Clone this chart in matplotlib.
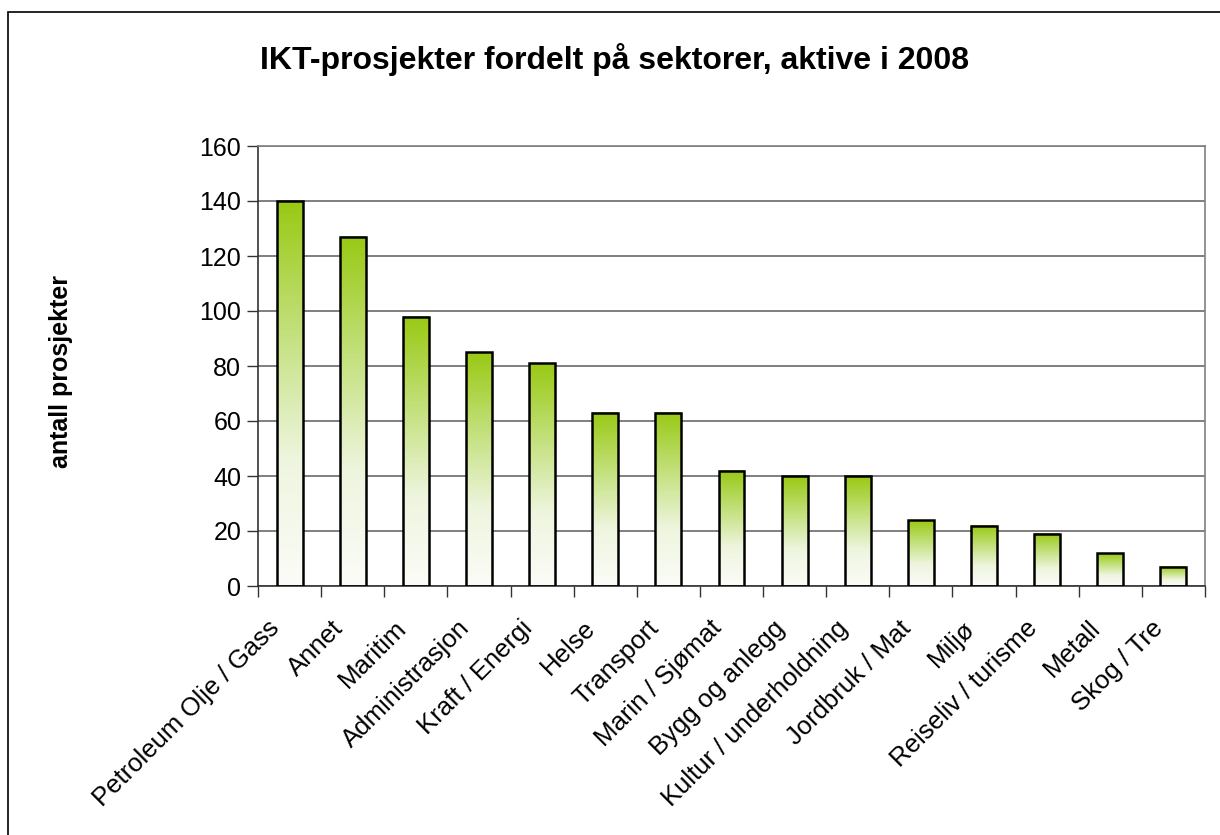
import matplotlib
matplotlib.use("Agg")
import matplotlib.pyplot as plt
import matplotlib.transforms as mtransforms
import numpy as np
from matplotlib.colors import LinearSegmentedColormap
from matplotlib.patches import Rectangle

plt.rcParams['font.family'] = ['Liberation Sans', 'DejaVu Sans']

title = "IKT-prosjekter fordelt på sektorer, aktive i 2008"
ylabel = "antall prosjekter"
categories = ["Petroleum Olje / Gass", "Annet", "Maritim", "Administrasjon",
              "Kraft / Energi", "Helse", "Transport", "Marin / Sjømat",
              "Bygg og anlegg", "Kultur / underholdning", "Jordbruk / Mat",
              "Miljø", "Reiseliv / turisme", "Metall", "Skog / Tre"]
values = [140, 127, 98, 85, 81, 63, 63, 42, 40, 40, 24, 22, 19, 12, 7]
yticks = [0, 20, 40, 60, 80, 100, 120, 140, 160]

fig = plt.figure(figsize=(12.2, 8.35), dpi=100)
# outer frame
fig.patches.append(Rectangle((8/1220, -0.05), 1.2, 1 - 12/835 + 0.05,
                             transform=fig.transFigure, fill=False,
                             edgecolor='black', linewidth=1.2, zorder=0))

ax = fig.add_axes([258/1220, 1 - 586/835, (1205 - 258)/1220, (586 - 146)/835])

cmap = LinearSegmentedColormap.from_list("g", ["#fbfcf8", "#eef5de", "#c2e07a", "#99c914"])
grad = np.linspace(0, 1, 256).reshape(-1, 1)
x = np.arange(len(categories))
w = 0.41
for xi, v in zip(x, values):
    ax.imshow(grad, extent=[xi - w/2, xi + w/2, 0, v], origin='lower',
              cmap=cmap, aspect='auto', zorder=2, interpolation='bilinear')
ax.bar(x, values, width=w, facecolor='none', edgecolor='black', linewidth=1.8, zorder=3)

ax.set_xlim(-0.5, len(categories) - 0.5)
ax.set_ylim(0, 160)
ax.set_yticks(yticks)
ax.set_yticklabels([str(t) for t in yticks], fontsize=18)
ax.yaxis.grid(True, color='#6a6a6a', linewidth=1.2)
ax.set_axisbelow(True)

ax.set_xticks(x)
ax.set_xticklabels(categories, rotation=45, ha='right', va='top',
                   rotation_mode='anchor', fontsize=18.5)
ax.tick_params(axis='x', which='major', length=0, pad=0)
offset = mtransforms.ScaledTranslation(-22/100, -30/100, fig.dpi_scale_trans)
for lab in ax.get_xticklabels():
    lab.set_transform(lab.get_transform() + offset)
ax.set_xticks(np.arange(-0.5, len(categories)), minor=True)
ax.tick_params(axis='x', which='minor', length=8, width=1, color='#333333', direction='out')
ax.tick_params(axis='y', length=8, width=1, color='#333333', direction='out', pad=4)

for s in ['top', 'right']:
    ax.spines[s].set_color('#808080')
    ax.spines[s].set_linewidth(1.2)
ax.spines['left'].set_color('#333333')
ax.spines['bottom'].set_color('#333333')
ax.spines['left'].set_linewidth(1.2)
ax.spines['bottom'].set_linewidth(1.2)

fig.text(615/1220, 1 - 59/835, title, ha='center', va='center', fontsize=23, fontweight='bold')
fig.text(61/1220, 1 - 371/835, ylabel, ha='center', va='center', rotation=90,
         fontsize=18, fontweight='bold')

fig.savefig("out.png", dpi=100)
